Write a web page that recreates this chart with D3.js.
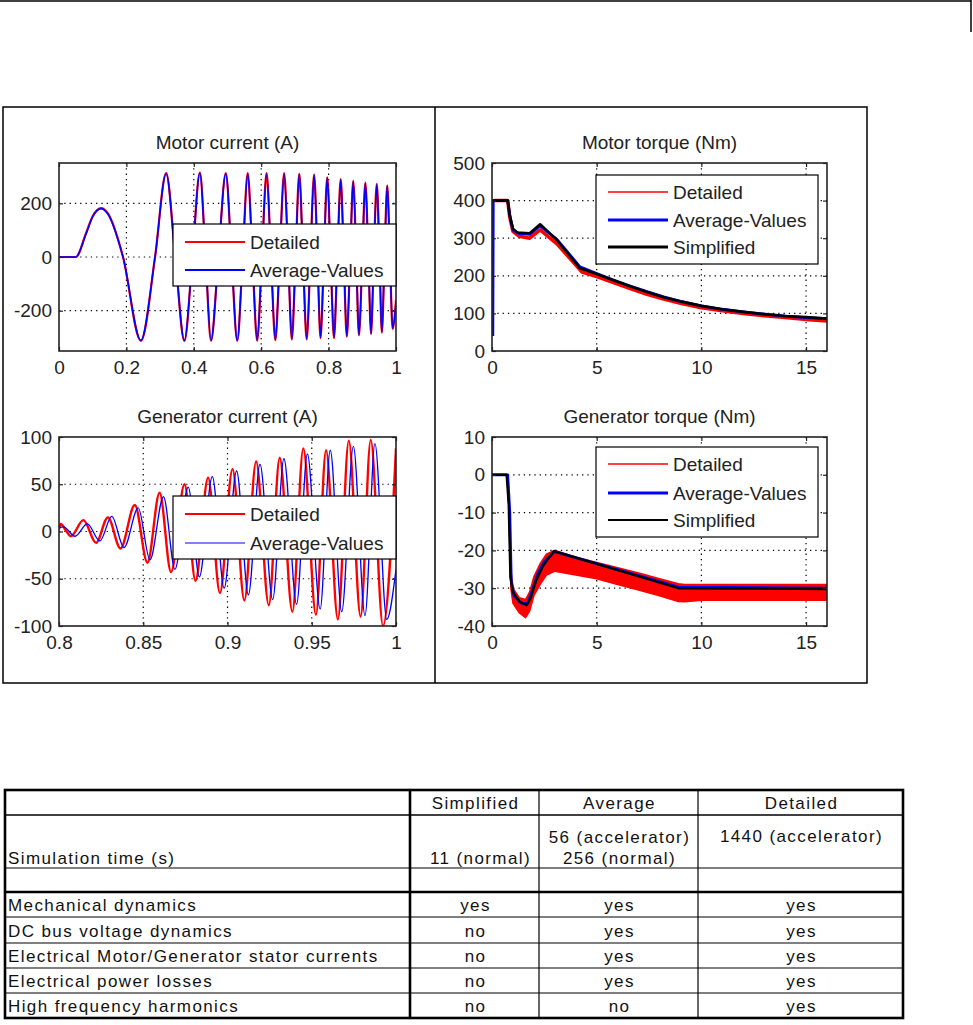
<!DOCTYPE html>
<html>
<head>
<meta charset="utf-8">
<script src="https://cdn.jsdelivr.net/npm/d3@7"></script>
<style>
  html, body { margin: 0; padding: 0; background: #fff; }
  svg { display: block; }
  .mtext { font-family: "Liberation Sans", Arial, sans-serif; font-size: 19px; fill: #222; }
  .ttext { font-family: "Liberation Sans", Arial, sans-serif; font-size: 17px; fill: #111; letter-spacing: 1.4px; }
</style>
</head>
<body>
<svg id="chart" width="973" height="1025"></svg>
<script>
// ---------------- DATA ----------------
const seriesNames = ["Detailed", "Average-Values", "Simplified"];

// Motor current (A), t in s, first 1 s
const motorCurrentAverage = [
  [0,0],[0.05,0],[0.08,85],[0.1,150],[0.125,180],[0.145,160],[0.19,0],[0.243,-310],[0.285,0],[0.318,310],
  [0.345,0],[0.372,-310],[0.396,0],[0.418,312],[0.435,0],[0.451,-310],[0.473,0],[0.495,310],
  [0.512,0],[0.529,-310],[0.545,0],[0.56,310],[0.574,0],[0.588,-310],[0.602,0],[0.616,310],
  [0.629,0],[0.642,-308],[0.655,0],[0.668,310],[0.68,0],[0.691,-305],[0.702,0],[0.713,308],
  [0.724,0],[0.735,-305],[0.746,0],[0.757,305],[0.767,0],[0.776,-300],[0.786,0],[0.796,295],
  [0.806,0],[0.816,-300],[0.826,0],[0.836,288],[0.845,0],[0.854,-295],[0.864,0],[0.873,282],
  [0.882,0],[0.89,-290],[0.9,0],[0.909,275],[0.918,0],[0.926,-285],[0.934,0],[0.943,270],
  [0.951,0],[0.958,-280],[0.966,0],[0.974,265],[0.982,0],[0.99,-265],[1.0,-170]
];
const motorCurrentDetailed = [
  [0,0],[0.05,0],[0.08,88],[0.1,152],[0.125,182],[0.145,162],[0.19,0],[0.243,-312],[0.285,0],[0.318,312],
  [0.345,0],[0.372,-312],[0.396,0],[0.418,314],[0.435,0],[0.451,-312],[0.473,0],[0.495,312],
  [0.512,0],[0.529,-312],[0.545,0],[0.56,312],[0.574,0],[0.588,-312],[0.602,0],[0.616,312],
  [0.629,0],[0.642,-310],[0.655,0],[0.668,312],[0.68,0],[0.691,-307],[0.702,0],[0.713,310],
  [0.724,0],[0.735,-307],[0.746,0],[0.757,307],[0.767,0],[0.776,-302],[0.786,0],[0.796,297],
  [0.806,0],[0.816,-302],[0.826,0],[0.836,290],[0.845,0],[0.854,-297],[0.864,0],[0.873,284],
  [0.882,0],[0.89,-292],[0.9,0],[0.909,277],[0.918,0],[0.926,-287],[0.934,0],[0.943,272],
  [0.951,0],[0.958,-282],[0.966,0],[0.974,267],[0.982,0],[0.99,-268],[1.0,-160]
];

// Generator current (A), t from 0.8 to 1 s
const genCurrentAverage = [
  [0.8,4],[0.8026,5],[0.8095,-5],[0.8168,8],[0.8243,-10],[0.8313,16],[0.8386,-17],[0.847,25],
  [0.854,-30],[0.862,37],[0.8688,-40],[0.8767,47],[0.8833,-48],[0.891,58],[0.898,-60],[0.9054,64],
  [0.9124,-67],[0.9193,71],[0.9268,-72],[0.9335,77],[0.941,-77],[0.9474,82],[0.955,-82],[0.961,86],
  [0.9678,-85],[0.9747,90],[0.9816,-89],[0.9875,93],[0.9945,-93],[1.0,-40]
];
const genCurrentDetailed = [
  [0.8,2],[0.801,8],[0.8045,0],[0.807,-5],[0.8145,12],[0.822,-12],[0.829,15],[0.8365,-18],
  [0.845,28],[0.8525,-33],[0.8597,41],[0.8665,-43],[0.8745,50],[0.881,-52],[0.8885,57],[0.8955,-65],
  [0.903,66],[0.91,-73],[0.917,74],[0.9245,-78],[0.931,78],[0.9385,-85],[0.945,88],[0.9525,-88],
  [0.9585,86],[0.9655,-93],[0.972,96],[0.979,-90],[0.985,97],[0.9923,-100],[1.0,88]
];

// Motor torque (Nm), t in s
const motorTorqueDetailed = [
  [0.1,400],[0.75,400],[0.85,355],[1.0,318],[1.3,305],[1.8,300],[2.3,322],[3.1,285],[4.3,210],
  [5,198],[5.8,182],[6.6,166],[7.4,151],[8.2,138],[9,127],[10,115],[11,107],[12,100],[13,94],
  [14,89],[15,84],[16,80]
];
const motorTorqueAverage = [
  [0.04,40],[0.06,400],[0.75,400],[0.85,360],[1.0,322],[1.3,312],[1.8,310],[2.3,333],[3.1,297],
  [4.2,224],[5,206],[5.8,189],[6.6,173],[7.4,158],[8.2,144],[9,132],[10,120],[11,111],[12,104],
  [13,98],[14,93],[15,89],[16,86]
];
const motorTorqueSimplified = [
  [0,400],[0.75,400],[0.85,360],[1.0,325],[1.2,315],[1.8,313],[2.3,337],[3.1,295],[4.2,220],
  [5,205],[5.8,188],[6.6,172],[7.4,157],[8.2,143],[9,132],[10,120],[11,111],[12,104],[13,98],
  [14,93],[15,90],[16,86]
];

// Generator torque (Nm), t in s
const genTorqueDetailedT     = [0.75, 0.8, 0.9, 1.0, 1.3, 1.6, 1.8, 2.0, 2.3, 2.6, 3.0, 4, 5, 6, 7, 8, 8.9, 9.2, 10, 12, 14, 16];
const genTorqueDetailedUpper = [0, -5, -25, -30, -32.5, -33, -31, -27, -23.5, -21, -20, -21.8, -23.2, -24.6, -26, -27.5, -28.8, -29, -29, -29, -29, -29];
const genTorqueDetailedLower = [0, -8, -30, -34, -36.5, -37.8, -36, -32, -29, -26.5, -25.5, -26.5, -27.5, -29, -30.5, -32, -33.5, -33.6, -33.2, -33.2, -33.2, -33.2];
const genTorqueAverage = [
  [0,0],[0.75,0],[0.85,-10],[0.92,-28],[1.05,-32],[1.4,-34],[1.7,-34],[1.9,-31],[2.2,-26],
  [2.5,-23],[3,-20.3],[8.9,-29.7],[16,-30]
];
const genTorqueSimplified = [
  [0,0],[0.7,0],[0.8,-8],[0.88,-27],[1.0,-31],[1.3,-33.5],[1.65,-34.5],[1.85,-32.5],[2.1,-28],
  [2.45,-24],[2.95,-20.2],[8.9,-30],[16,-30.2]
];

// Tick values
const mcXTicks = [0, 0.2, 0.4, 0.6, 0.8, 1];
const mcYTicks = [-200, 0, 200];
const gcXTicks = [0.8, 0.85, 0.9, 0.95, 1];
const gcYTicks = [-100, -50, 0, 50, 100];
const mtXTicks = [0, 5, 10, 15];
const mtYTicks = [0, 100, 200, 300, 400, 500];
const gtXTicks = [0, 5, 10, 15];
const gtYTicks = [-40, -30, -20, -10, 0, 10];

// Table
const tableColumns = ["", "Simplified", "Average", "Detailed"];
const tableSimTime = ["Simulation time (s)", ["11 (normal)"], ["56 (accelerator)", "256 (normal)"], ["1440 (accelerator)"]];
const tableFeatures = ["Mechanical dynamics", "DC bus voltage dynamics", "Electrical Motor/Generator stator currents", "Electrical power losses", "High frequency harmonics"];
const tableSimplified = ["yes", "no", "no", "no", "no"];
const tableAverage = ["yes", "yes", "yes", "yes", "no"];
const tableDetailed = ["yes", "yes", "yes", "yes", "yes"];

// ---------------- DRAWING ----------------
const svg = d3.select("#chart");
const RED = "#ff0000", BLUE = "#0000ff", BLACK = "#000000";

// page header rule
svg.append("line").attr("x1", 0).attr("x2", 971).attr("y1", 1).attr("y2", 1).attr("stroke", "#000").attr("stroke-width", 1.5);
svg.append("line").attr("x1", 971).attr("x2", 971).attr("y1", 0).attr("y2", 32).attr("stroke", "#000").attr("stroke-width", 1.5);

// figure frame
svg.append("rect").attr("x", 3).attr("y", 107).attr("width", 864).attr("height", 576)
  .attr("fill", "#fff").attr("stroke", "#000").attr("stroke-width", 1.5);
svg.append("line").attr("x1", 435).attr("x2", 435).attr("y1", 107).attr("y2", 683).attr("stroke", "#000").attr("stroke-width", 1.5);

let clipId = 0;
function panel(cfg) {
  const g = svg.append("g");
  const x = d3.scaleLinear().domain(cfg.xDomain).range([cfg.left, cfg.right]);
  const y = d3.scaleLinear().domain(cfg.yDomain).range([cfg.bottom, cfg.top]);
  const w = cfg.right - cfg.left, h = cfg.bottom - cfg.top;

  // title
  g.append("text").attr("class", "mtext").attr("x", (cfg.left + cfg.right) / 2).attr("y", cfg.top - 14)
    .attr("text-anchor", "middle").text(cfg.title);

  // grid
  const grid = g.append("g").attr("stroke", "#000").attr("stroke-width", 1.2).attr("stroke-dasharray", "1.3,4");
  cfg.xTicks.filter(v => v > cfg.xDomain[0] && v < cfg.xDomain[1]).forEach(v => {
    grid.append("line").attr("x1", x(v)).attr("x2", x(v)).attr("y1", cfg.top).attr("y2", cfg.bottom);
  });
  cfg.yTicks.filter(v => v > cfg.yDomain[0] && v < cfg.yDomain[1]).forEach(v => {
    grid.append("line").attr("y1", y(v)).attr("y2", y(v)).attr("x1", cfg.left).attr("x2", cfg.right);
  });

  // clip
  const id = "clip" + (clipId++);
  svg.append("defs").append("clipPath").attr("id", id)
    .append("rect").attr("x", cfg.left).attr("y", cfg.top).attr("width", w).attr("height", h);
  const plot = g.append("g").attr("clip-path", `url(#${id})`);

  cfg.draw(plot, x, y);

  // axes with inside ticks
  const fmt = cfg.fmt || (d => String(d));
  const ax = g.append("g").attr("transform", `translate(0,${cfg.bottom})`)
    .call(d3.axisBottom(x).tickValues(cfg.xTicks).tickSizeInner(-4).tickSizeOuter(0).tickPadding(10).tickFormat(cfg.xFmt || fmt));
  const ay = g.append("g").attr("transform", `translate(${cfg.left},0)`)
    .call(d3.axisLeft(y).tickValues(cfg.yTicks).tickSizeInner(-4).tickSizeOuter(0).tickPadding(7).tickFormat(fmt));
  const at = g.append("g").attr("transform", `translate(0,${cfg.top})`)
    .call(d3.axisTop(x).tickValues(cfg.xTicks).tickSizeInner(-4).tickSizeOuter(0).tickFormat(""));
  const ar = g.append("g").attr("transform", `translate(${cfg.right},0)`)
    .call(d3.axisRight(y).tickValues(cfg.yTicks).tickSizeInner(-4).tickSizeOuter(0).tickFormat(""));
  [ax, ay, at, ar].forEach(a => {
    a.select(".domain").remove();
    a.selectAll(".tick line").attr("stroke", "#222").attr("stroke-width", 1.2);
    a.selectAll(".tick text").attr("class", "mtext").attr("font-family", null).attr("font-size", null).attr("fill", null);
  });

  // box
  g.append("rect").attr("x", cfg.left).attr("y", cfg.top).attr("width", w).attr("height", h)
    .attr("fill", "none").attr("stroke", "#222").attr("stroke-width", 1.6);

  // legend
  const L = cfg.legend;
  const lg = g.append("g");
  lg.append("rect").attr("x", L.x).attr("y", L.y).attr("width", L.w).attr("height", L.h)
    .attr("fill", "#fff").attr("stroke", "#000").attr("stroke-width", 1.2);
  L.items.forEach((it, i) => {
    const cy = L.y + L.rows[i];
    lg.append("line").attr("x1", L.x + 12).attr("x2", L.x + 72).attr("y1", cy).attr("y2", cy)
      .attr("stroke", it.color).attr("stroke-width", it.width);
    lg.append("text").attr("class", "mtext").attr("x", L.x + 77).attr("y", cy + 7).text(it.name);
  });
  return { x, y };
}

function drawLine(sel, data, x, y, color, width, curve) {
  sel.append("path").datum(data)
    .attr("d", d3.line().x(d => x(d[0])).y(d => y(d[1])).curve(curve || d3.curveLinear))
    .attr("fill", "none").attr("stroke", color).attr("stroke-width", width).attr("stroke-linejoin", "round");
}

// Motor current
panel({
  title: "Motor current (A)", left: 59, right: 396, top: 163, bottom: 351,
  xDomain: [0, 1], yDomain: [-350, 350], xTicks: mcXTicks, yTicks: mcYTicks,
  draw: (p, x, y) => {
    drawLine(p, motorCurrentDetailed, x, y, RED, 2.2, d3.curveMonotoneX);
    drawLine(p, motorCurrentAverage, x, y, BLUE, 1.6, d3.curveMonotoneX);
  },
  legend: { x: 173, y: 224, w: 223, h: 62, rows: [18, 46],
    items: [{ name: seriesNames[0], color: RED, width: 2 }, { name: seriesNames[1], color: BLUE, width: 2 }] }
});

// Generator current
panel({
  title: "Generator current (A)", left: 59, right: 396, top: 437, bottom: 626,
  xDomain: [0.8, 1], yDomain: [-100, 100], xTicks: gcXTicks, yTicks: gcYTicks,
  draw: (p, x, y) => {
    drawLine(p, genCurrentDetailed, x, y, RED, 2.4, d3.curveMonotoneX);
    drawLine(p, genCurrentAverage, x, y, BLUE, 1.3, d3.curveMonotoneX);
  },
  legend: { x: 173, y: 496, w: 223, h: 63, rows: [18, 47],
    items: [{ name: seriesNames[0], color: RED, width: 2 }, { name: seriesNames[1], color: BLUE, width: 1 }] }
});

// Motor torque
panel({
  title: "Motor torque (Nm)", left: 492, right: 827, top: 163, bottom: 351,
  xDomain: [0, 16], yDomain: [0, 500], xTicks: mtXTicks, yTicks: mtYTicks,
  draw: (p, x, y) => {
    drawLine(p, motorTorqueDetailed, x, y, RED, 3.5);
    drawLine(p, motorTorqueAverage, x, y, BLUE, 2.8);
    drawLine(p, motorTorqueSimplified, x, y, BLACK, 2.6);
  },
  legend: { x: 596, y: 175, w: 222, h: 89, rows: [17, 45, 72],
    items: [{ name: seriesNames[0], color: RED, width: 1.5 }, { name: seriesNames[1], color: BLUE, width: 2.8 },
            { name: seriesNames[2], color: BLACK, width: 2.8 }] }
});

// Generator torque
panel({
  title: "Generator torque (Nm)", left: 492, right: 827, top: 437, bottom: 626,
  xDomain: [0, 16], yDomain: [-40, 10], xTicks: gtXTicks, yTicks: gtYTicks,
  draw: (p, x, y) => {
    const band = genTorqueDetailedT.map((t, i) => [t, genTorqueDetailedUpper[i], genTorqueDetailedLower[i]]);
    p.append("path").datum(band)
      .attr("d", d3.area().x(d => x(d[0])).y0(d => y(d[2])).y1(d => y(d[1])))
      .attr("fill", RED).attr("stroke", RED).attr("stroke-width", 1.5);
    drawLine(p, genTorqueAverage, x, y, BLUE, 2.8);
    drawLine(p, genTorqueSimplified, x, y, BLACK, 2.4);
  },
  legend: { x: 596, y: 447, w: 222, h: 90, rows: [17, 46, 73],
    items: [{ name: seriesNames[0], color: RED, width: 1.5 }, { name: seriesNames[1], color: BLUE, width: 2.8 },
            { name: seriesNames[2], color: BLACK, width: 2.2 }] }
});

// ---------------- TABLE ----------------
const colX = [5, 410, 539, 698, 903];
const rowY = [790, 815, 868, 892, 917, 943, 968, 993, 1018];
const tg = svg.append("g");
rowY.slice(1, -1).forEach(ry => {
  tg.append("line").attr("x1", colX[0]).attr("x2", colX[4]).attr("y1", ry).attr("y2", ry)
    .attr("stroke", "#000").attr("stroke-width", ry === 892 ? 2.6 : (ry === 815 ? 1.6 : 1.2));
});
colX.slice(1, -1).forEach(cx => {
  tg.append("line").attr("x1", cx).attr("x2", cx).attr("y1", rowY[0]).attr("y2", rowY[rowY.length - 1])
    .attr("stroke", "#000").attr("stroke-width", cx === 410 ? 2.6 : 1.2);
});
tg.append("rect").attr("x", colX[0]).attr("y", rowY[0]).attr("width", colX[4] - colX[0]).attr("height", rowY[8] - rowY[0])
  .attr("fill", "none").attr("stroke", "#000").attr("stroke-width", 2.6);

function ttext(x, y, s, anchor) {
  tg.append("text").attr("class", "ttext").attr("x", x).attr("y", y).attr("text-anchor", anchor || "start").text(s);
}
const mid = i => (colX[i] + colX[i + 1]) / 2 + 1;
tableColumns.forEach((c, i) => { if (c) ttext(mid(i), 809, c, "middle"); });
ttext(8, 864, tableSimTime[0]);
ttext(531, 864, tableSimTime[1][0], "end");
ttext(mid(2), 843, tableSimTime[2][0], "middle");
ttext(mid(2), 864, tableSimTime[2][1], "middle");
ttext(mid(3), 842, tableSimTime[3][0], "middle");
tableFeatures.forEach((f, i) => {
  const by = rowY[i + 4] - 6;
  ttext(8, by, f);
  ttext(mid(1), by, tableSimplified[i], "middle");
  ttext(mid(2), by, tableAverage[i], "middle");
  ttext(mid(3), by, tableDetailed[i], "middle");
});
</script>
</body>
</html>
